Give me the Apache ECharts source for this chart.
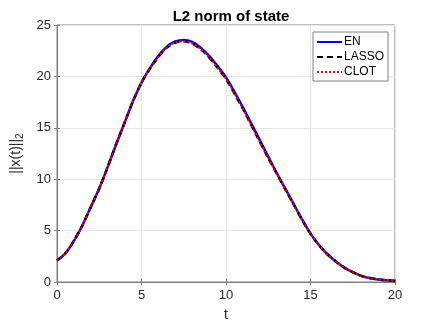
<!DOCTYPE html>
<html>
<head>
<meta charset="utf-8">
<script src="https://cdn.jsdelivr.net/npm/echarts@6/dist/echarts.min.js"></script>
<style>
  html, body { margin: 0; padding: 0; background: #fff; }
  #main { width: 436px; height: 327px; }
</style>
</head>
<body>
<div id="main"></div>
<script>
// time samples
var tVals = [0, 0.5, 1, 1.5, 2, 2.5, 3, 3.5, 4, 4.5, 5, 5.5, 6, 6.5, 7, 7.5, 8, 8.5, 9, 9.5,
  10, 10.5, 11, 11.5, 12, 12.5, 13, 13.5, 14, 14.5, 15, 15.5, 16, 16.5, 17, 17.5, 18, 18.5, 19, 19.5, 20];
// ||x(t)||_2 per method
var enVals = [2.1, 2.8, 4.0, 5.5, 7.3, 9.1, 11.2, 13.4, 15.5, 17.6, 19.4, 20.8, 22.0, 22.9, 23.4, 23.55,
  23.35, 22.8, 22.0, 21.0, 19.9, 18.5, 17.0, 15.4, 13.8, 12.2, 10.6, 9.1, 7.6, 6.1, 4.7, 3.6, 2.7, 2.0,
  1.4, 0.95, 0.6, 0.38, 0.25, 0.18, 0.1];
var lassoVals = [2.1, 2.8, 4.0, 5.5, 7.3, 9.1, 11.2, 13.4, 15.5, 17.6, 19.4, 20.75, 21.9, 22.8, 23.3, 23.42,
  23.2, 22.65, 21.85, 20.85, 19.75, 18.35, 16.85, 15.25, 13.65, 12.05, 10.55, 9.05, 7.55, 6.05, 4.7, 3.6, 2.7, 2.0,
  1.4, 0.95, 0.6, 0.38, 0.25, 0.18, 0.1];
var clotVals = [2.1, 2.8, 4.0, 5.5, 7.3, 9.1, 11.2, 13.4, 15.5, 17.6, 19.4, 20.75, 21.9, 22.8, 23.3, 23.42,
  23.2, 22.65, 21.85, 20.85, 19.75, 18.35, 16.85, 15.25, 13.65, 12.05, 10.55, 9.05, 7.55, 6.05, 4.7, 3.6, 2.7, 2.0,
  1.4, 0.95, 0.6, 0.38, 0.25, 0.18, 0.1];
var seriesNames = ['EN', 'LASSO', 'CLOT'];

function pairs(vals) {
  var out = [];
  for (var i = 0; i < tVals.length; i++) {
    out.push([tVals[i], vals[i]]);
  }
  return out;
}

var font = 'Liberation Sans';
var axisCol = '#7f7f7f';
var txtCol = '#262626';

var myChart = echarts.init(document.getElementById('main'));
var option = {
  animation: false,
  textStyle: { fontFamily: font },
  title: {
    text: 'L2 norm of state',
    left: 226,
    textAlign: 'center',
    top: 4,
    textStyle: { fontSize: 15, fontWeight: 'bold', color: '#000', fontFamily: font }
  },
  grid: { left: 57, right: 41, top: 25, bottom: 41, show: true, borderColor: axisCol, borderWidth: 1 },
  legend: {
    data: seriesNames,
    orient: 'vertical',
    left: 313,
    top: 32,
    padding: [4, 4, 3, 3],
    itemGap: 3,
    itemWidth: 25,
    itemHeight: 12,
    itemStyle: { opacity: 0 },
    backgroundColor: '#fff',
    borderColor: axisCol,
    borderWidth: 1,
    borderRadius: 0,
    textStyle: { fontSize: 12, color: '#000', fontFamily: font, padding: [0, 0, 0, -3] }
  },
  xAxis: [{
    type: 'value',
    min: 0, max: 20, interval: 5,
    name: 't',
    nameLocation: 'middle',
    nameGap: 26,
    nameTextStyle: { fontSize: 14, color: txtCol, fontFamily: font },
    axisLine: { show: true, lineStyle: { color: axisCol } },
    axisTick: { show: true, inside: true, length: 3, lineStyle: { color: axisCol } },
    axisLabel: { fontSize: 13, color: txtCol, margin: 7, fontFamily: font },
    splitLine: { show: true, lineStyle: { color: '#e6e6e6' } }
  }, {
    type: 'value', position: 'top',
    min: 0, max: 20, interval: 5,
    axisLine: { show: true, lineStyle: { color: axisCol } },
    axisTick: { show: true, inside: true, length: 3, lineStyle: { color: axisCol } },
    axisLabel: { show: false },
    splitLine: { show: false }
  }],
  yAxis: [{
    type: 'value',
    min: 0, max: 25, interval: 5,
    name: '{a|||x(t)||}{b|2}',
    nameLocation: 'middle',
    nameGap: 25,
    nameTextStyle: {
      color: txtCol,
      rich: {
        a: { fontSize: 14, color: txtCol, fontFamily: font },
        b: { fontSize: 10, color: txtCol, fontFamily: font, verticalAlign: 'bottom', padding: [8, 0, 0, 0] }
      }
    },
    axisLine: { show: true, lineStyle: { color: axisCol } },
    axisTick: { show: true, inside: true, length: 3, lineStyle: { color: axisCol } },
    axisLabel: { fontSize: 13, color: txtCol, margin: 6, fontFamily: font },
    splitLine: { show: true, lineStyle: { color: '#e6e6e6' } }
  }, {
    type: 'value', position: 'right',
    min: 0, max: 25, interval: 5,
    axisLine: { show: true, lineStyle: { color: axisCol } },
    axisTick: { show: true, inside: true, length: 3, lineStyle: { color: axisCol } },
    axisLabel: { show: false },
    splitLine: { show: false }
  }],
  series: [{
    name: 'EN',
    type: 'line',
    data: pairs(enVals),
    smooth: 0.3,
    showSymbol: false,
    symbol: 'none',
    color: '#0000ff',
    lineStyle: { color: '#0000ff', width: 2.5 }
  }, {
    name: 'LASSO',
    type: 'line',
    data: pairs(lassoVals),
    smooth: 0.3,
    showSymbol: false,
    symbol: 'none',
    color: '#000000',
    lineStyle: { color: '#000000', width: 2.5, type: [6, 4] }
  }, {
    name: 'CLOT',
    type: 'line',
    data: pairs(clotVals),
    smooth: 0.3,
    showSymbol: false,
    symbol: 'none',
    color: '#ff0000',
    lineStyle: { color: '#ff0000', width: 2, type: [2, 2] }
  }]
};
myChart.setOption(option);
</script>
</body>
</html>
